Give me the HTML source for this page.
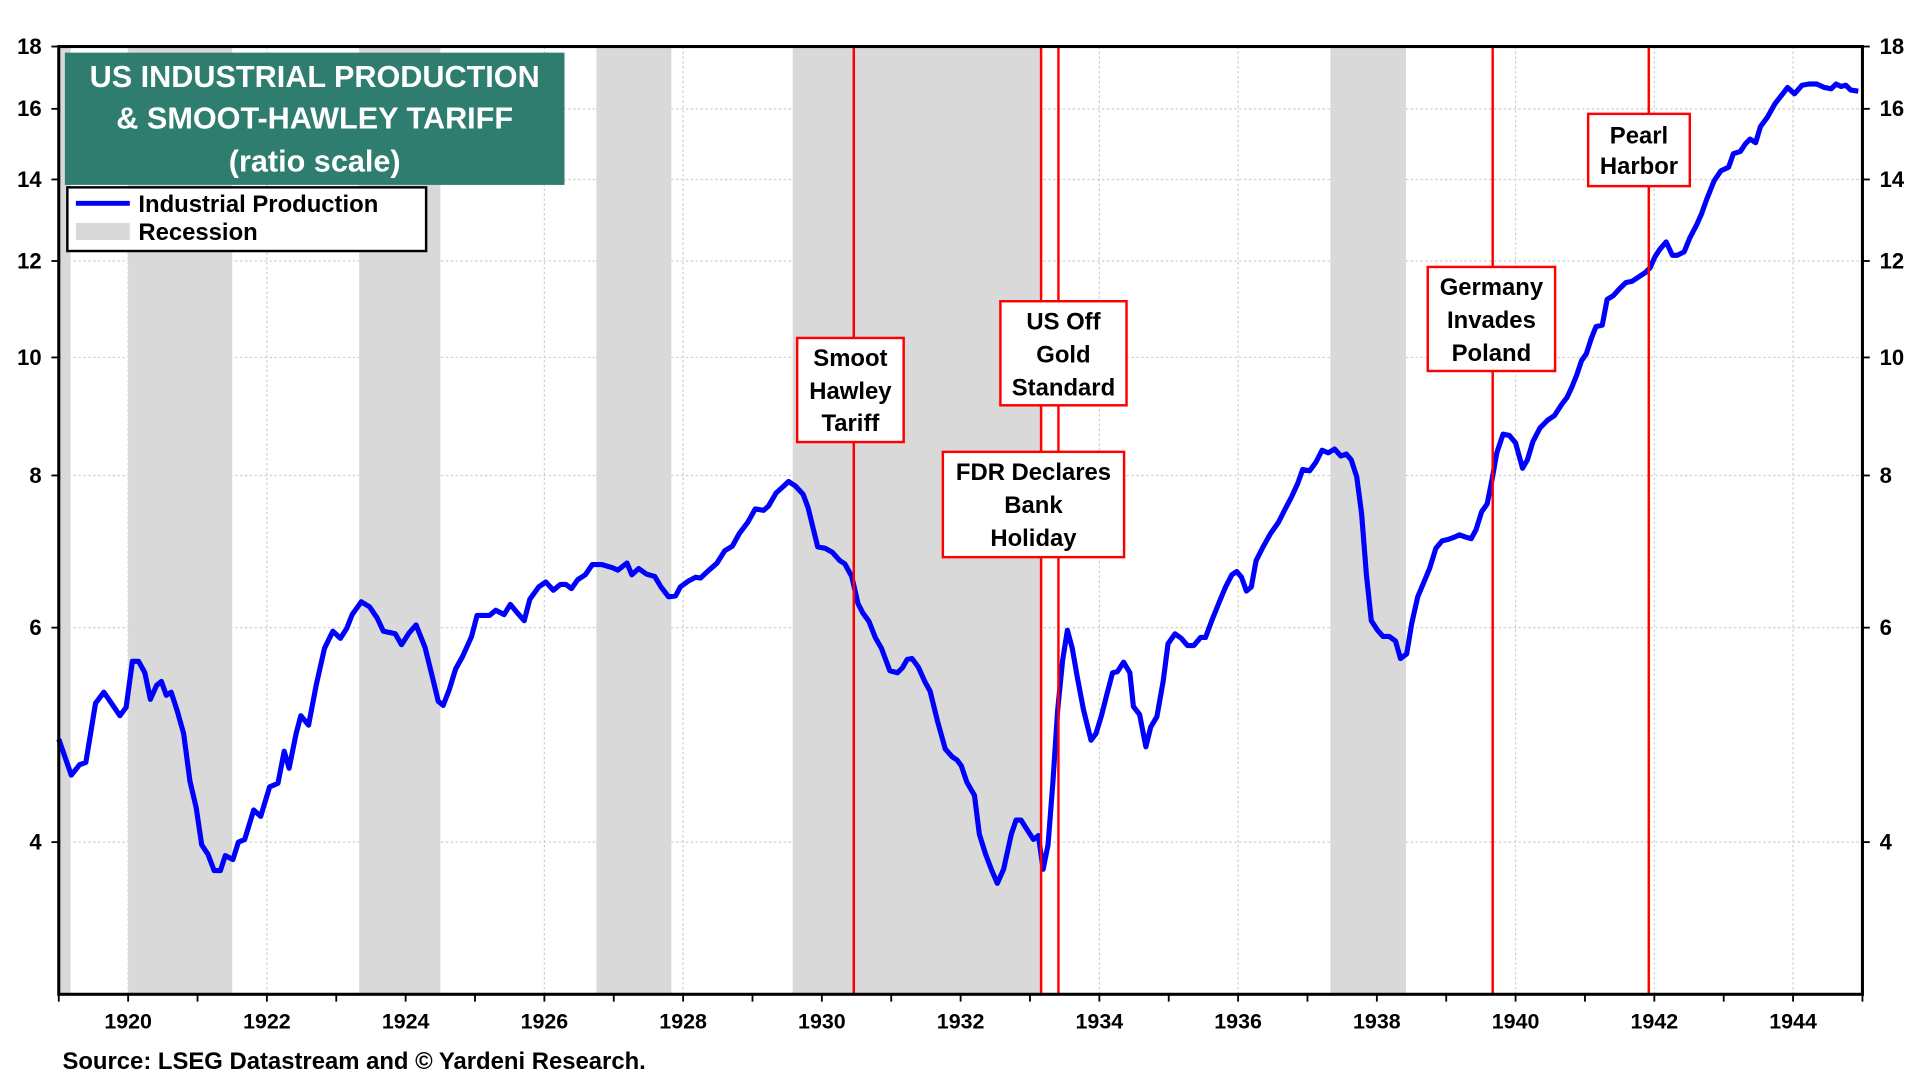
<!DOCTYPE html>
<html><head><meta charset="utf-8"><style>
html,body{margin:0;padding:0;background:#fff;}
svg{display:block;}
text{font-family:"Liberation Sans",Arial,sans-serif;font-weight:bold;}
</style></head><body>
<svg id="chart" width="1920" height="1080" viewBox="0 0 1568 882" preserveAspectRatio="none" xmlns="http://www.w3.org/2000/svg">
<g id="bg"></g>
<g id="grid"></g>
<g id="recessions"></g>
<g id="series"></g>
<g id="events"></g>
<g id="axes"></g>
</svg>
<script>
const years=[1919.00,1919.18,1919.30,1919.39,1919.53,1919.65,1919.74,1919.88,1919.97,1920.06,1920.15,1920.24,1920.32,1920.41,1920.48,1920.55,1920.62,1920.71,1920.80,1920.89,1920.98,1921.06,1921.15,1921.24,1921.33,1921.40,1921.51,1921.59,1921.68,1921.81,1921.91,1922.04,1922.16,1922.25,1922.32,1922.42,1922.49,1922.60,1922.71,1922.83,1922.95,1923.06,1923.15,1923.23,1923.36,1923.48,1923.59,1923.68,1923.80,1923.85,1923.94,1924.05,1924.15,1924.28,1924.38,1924.47,1924.54,1924.63,1924.72,1924.82,1924.95,1925.03,1925.21,1925.30,1925.42,1925.51,1925.60,1925.71,1925.79,1925.92,1926.02,1926.13,1926.23,1926.31,1926.39,1926.48,1926.59,1926.69,1926.83,1926.98,1927.06,1927.19,1927.26,1927.36,1927.47,1927.59,1927.68,1927.79,1927.89,1927.96,1928.07,1928.18,1928.25,1928.35,1928.49,1928.60,1928.71,1928.81,1928.93,1929.04,1929.16,1929.23,1929.34,1929.45,1929.52,1929.62,1929.73,1929.80,1929.94,1930.05,1930.15,1930.26,1930.33,1930.43,1930.52,1930.59,1930.68,1930.77,1930.86,1930.98,1931.09,1931.16,1931.23,1931.30,1931.39,1931.49,1931.56,1931.67,1931.78,1931.88,1931.95,1932.01,1932.09,1932.20,1932.27,1932.36,1932.45,1932.53,1932.62,1932.73,1932.80,1932.87,1932.94,1933.05,1933.12,1933.19,1933.26,1933.33,1933.40,1933.47,1933.54,1933.61,1933.68,1933.77,1933.88,1933.95,1934.03,1934.12,1934.19,1934.26,1934.35,1934.44,1934.49,1934.58,1934.67,1934.74,1934.83,1934.92,1934.99,1935.09,1935.18,1935.27,1935.36,1935.46,1935.53,1935.62,1935.73,1935.82,1935.91,1935.98,1936.05,1936.12,1936.19,1936.26,1936.36,1936.47,1936.58,1936.68,1936.77,1936.86,1936.93,1937.03,1937.12,1937.21,1937.30,1937.39,1937.48,1937.56,1937.63,1937.71,1937.78,1937.85,1937.92,1938.01,1938.09,1938.18,1938.27,1938.34,1938.43,1938.50,1938.59,1938.68,1938.76,1938.85,1938.94,1939.03,1939.12,1939.19,1939.28,1939.36,1939.43,1939.51,1939.59,1939.66,1939.73,1939.82,1939.91,1940.00,1940.10,1940.17,1940.25,1940.35,1940.46,1940.56,1940.67,1940.74,1940.81,1940.88,1940.95,1941.02,1941.09,1941.16,1941.25,1941.32,1941.41,1941.50,1941.59,1941.68,1941.76,1941.87,1941.94,1942.01,1942.08,1942.17,1942.26,1942.33,1942.43,1942.51,1942.61,1942.68,1942.75,1942.86,1942.96,1943.07,1943.14,1943.24,1943.31,1943.38,1943.46,1943.53,1943.63,1943.74,1943.84,1943.92,1944.02,1944.13,1944.23,1944.34,1944.45,1944.55,1944.62,1944.69,1944.76,1944.83,1944.94];
const production=[4.86,4.54,4.63,4.65,5.20,5.31,5.22,5.08,5.16,5.63,5.63,5.51,5.24,5.38,5.42,5.28,5.31,5.12,4.91,4.49,4.27,3.98,3.91,3.79,3.79,3.90,3.87,4.00,4.02,4.25,4.20,4.44,4.47,4.75,4.60,4.91,5.08,4.99,5.38,5.77,5.96,5.88,5.99,6.15,6.30,6.24,6.11,5.96,5.94,5.93,5.81,5.94,6.03,5.78,5.48,5.22,5.18,5.34,5.55,5.68,5.90,6.14,6.14,6.20,6.15,6.27,6.18,6.08,6.33,6.48,6.54,6.44,6.51,6.51,6.46,6.57,6.63,6.76,6.76,6.72,6.69,6.78,6.63,6.71,6.64,6.61,6.48,6.36,6.37,6.48,6.55,6.60,6.59,6.67,6.78,6.94,7.00,7.17,7.32,7.51,7.49,7.55,7.74,7.84,7.91,7.84,7.72,7.53,6.99,6.97,6.92,6.81,6.77,6.61,6.28,6.17,6.07,5.89,5.77,5.53,5.51,5.56,5.65,5.66,5.57,5.41,5.32,5.02,4.77,4.70,4.67,4.62,4.48,4.37,4.06,3.91,3.79,3.70,3.80,4.06,4.17,4.17,4.11,4.02,4.05,3.80,3.98,4.47,5.14,5.64,5.97,5.77,5.47,5.14,4.85,4.91,5.08,5.32,5.51,5.52,5.62,5.51,5.17,5.09,4.79,4.97,5.07,5.42,5.82,5.93,5.88,5.80,5.80,5.89,5.89,6.08,6.30,6.48,6.63,6.67,6.60,6.43,6.48,6.81,6.99,7.17,7.32,7.51,7.68,7.88,8.09,8.07,8.20,8.39,8.35,8.41,8.30,8.33,8.24,7.98,7.44,6.63,6.08,5.97,5.90,5.90,5.85,5.66,5.71,6.04,6.36,6.54,6.71,6.97,7.07,7.09,7.12,7.15,7.12,7.10,7.22,7.47,7.58,7.94,8.35,8.65,8.63,8.51,8.11,8.24,8.53,8.75,8.88,8.96,9.16,9.27,9.45,9.67,9.94,10.07,10.36,10.60,10.63,11.16,11.24,11.39,11.52,11.55,11.63,11.74,11.85,12.10,12.27,12.44,12.13,12.13,12.21,12.53,12.85,13.12,13.46,13.96,14.23,14.33,14.70,14.76,14.97,15.11,15.01,15.47,15.75,16.16,16.43,16.66,16.46,16.73,16.77,16.77,16.66,16.62,16.77,16.69,16.73,16.58,16.54];
const recessionStarts=[1918.7,1920.0,1923.33,1926.75,1929.58,1937.33];
const recessionEnds=[1919.17,1921.5,1924.5,1927.83,1933.17,1938.42];
const yTicks=[4,6,8,10,12,14,16,18];
const xTickYears=[1920,1922,1924,1926,1928,1930,1932,1934,1936,1938,1940,1942,1944];
const eventYears=[1930.46,1933.16,1933.41,1939.67,1941.92];

const L=48,R=1521,T=38,B=812,X0=1919.0,X1=1945.0,YMIN=3.0,YMAX=18;
function xs(y){return L+(y-X0)/(X1-X0)*(R-L);}
function ys(v){return T+(Math.log(YMAX)-Math.log(v))/(Math.log(YMAX)-Math.log(YMIN))*(B-T);}
const NS="http://www.w3.org/2000/svg";
function mk(tag,attrs,parent,txt){const e=document.createElementNS(NS,tag);for(const k in attrs)e.setAttribute(k,attrs[k]);if(txt!==undefined)e.textContent=txt;parent.appendChild(e);return e;}
const g=id=>document.getElementById(id);

yTicks.forEach(v=>{const l=mk('line',{x1:L,x2:R,y1:ys(v),y2:ys(v),stroke:'#cfcfcf','stroke-width':1,'stroke-dasharray':'2,2'},g('grid'));

});
xTickYears.forEach(yr=>{const l=mk('line',{x1:xs(yr),x2:xs(yr),y1:T,y2:B,stroke:'#cfcfcf','stroke-width':1,'stroke-dasharray':'2,2'},g('grid'));

});

recessionStarts.forEach((s,i)=>{const a=Math.max(s,X0);const r=mk('rect',{x:xs(a),y:T,width:xs(recessionEnds[i])-xs(a),height:B-T,fill:'#d9d9d9'},g('recessions'));

});

eventYears.forEach(yr=>{const l=mk('line',{x1:xs(yr),x2:xs(yr),y1:T,y2:B,stroke:'#ff0000','stroke-width':2},g('events'));

});

let d='';years.forEach((yr,i)=>{d+=(i?'L':'M')+xs(yr).toFixed(1)+','+ys(production[i]).toFixed(1);});
const p=mk('path',{d:d,fill:'none',stroke:'#0000ff','stroke-width':4.2,'stroke-linejoin':'round'},g('series'));



const boxes=[
 {x:651,y:276,w:87,h:85,lines:['Smoot','Hawley','Tariff'],ty:[292,319,345],name:'smoot-hawley-annotation'},
 {x:817,y:246,w:103,h:85,lines:['US Off','Gold','Standard'],ty:[262,289,316],name:'gold-standard-annotation'},
 {x:770,y:369,w:148,h:86,lines:['FDR Declares','Bank','Holiday'],ty:[385,412,439],name:'bank-holiday-annotation'},
 {x:1166,y:218,w:104,h:85,lines:['Germany','Invades','Poland'],ty:[234,261,288],name:'germany-poland-annotation'},
 {x:1297,y:93,w:83,h:59,lines:['Pearl','Harbor'],ty:[110,135],name:'pearl-harbor-annotation'}];
boxes.forEach(b=>{const grp=mk('g',{},g('events'));


mk('rect',{x:b.x,y:b.y,width:b.w,height:b.h,fill:'#fff',stroke:'#ff0000','stroke-width':2},grp);
b.lines.forEach((t,i)=>mk('text',{x:b.x+b.w/2,y:b.ty[i]+7,'text-anchor':'middle','font-size':19.5,fill:'#000'},grp,t));});

const ax=g('axes');
const fr=mk('rect',{x:L,y:T,width:R-L,height:B-T,fill:'none',stroke:'#000','stroke-width':2.5},ax);


yTicks.forEach(v=>{
 mk('line',{x1:L-6,x2:L,y1:ys(v),y2:ys(v),stroke:'#000','stroke-width':1.5},ax);
 mk('line',{x1:R,x2:R+6,y1:ys(v),y2:ys(v),stroke:'#000','stroke-width':1.5},ax);
 const a=mk('text',{x:34,y:ys(v)+6,'text-anchor':'end','font-size':18,fill:'#000'},ax,String(v));
 
 
 const b=mk('text',{x:1535,y:ys(v)+6,'text-anchor':'start','font-size':18,fill:'#000'},ax,String(v));
 
 });
for(let yr=1919;yr<=1945;yr++){mk('line',{x1:xs(yr),x2:xs(yr),y1:B,y2:B+6,stroke:'#000','stroke-width':1.5},ax);}
xTickYears.forEach(yr=>{const t=mk('text',{x:xs(yr),y:840,'text-anchor':'middle','font-size':17.5,fill:'#000'},ax,String(yr));

});
</script>
<svg style="position:absolute;left:0;top:0" width="1920" height="1080" viewBox="0 0 1568 882" preserveAspectRatio="none" xmlns="http://www.w3.org/2000/svg">
<g>
<rect x="53" y="43" width="408" height="108" fill="#2e7d6e"/>
<text x="257" y="71" text-anchor="middle" font-size="25" fill="#fff">US INDUSTRIAL PRODUCTION</text>
<text x="257" y="105" text-anchor="middle" font-size="25" fill="#fff">&amp; SMOOT-HAWLEY TARIFF</text>
<text x="257" y="140" text-anchor="middle" font-size="25" fill="#fff">(ratio scale)</text>
</g>
<g>
<rect x="55" y="153" width="293" height="52" fill="#fff" stroke="#000" stroke-width="2"/>
<line x1="62" y1="166" x2="106" y2="166" stroke="#0000ff" stroke-width="4"/>
<text x="113" y="173" font-size="19.5" fill="#000">Industrial Production</text>
<rect x="62" y="182" width="44" height="14" fill="#d9d9d9"/>
<text x="113" y="196" font-size="19.5" fill="#000">Recession</text>
</g>
<text x="51" y="873" font-size="19.5" fill="#000">Source: LSEG Datastream and © Yardeni Research.</text>
</svg>
</body></html>
